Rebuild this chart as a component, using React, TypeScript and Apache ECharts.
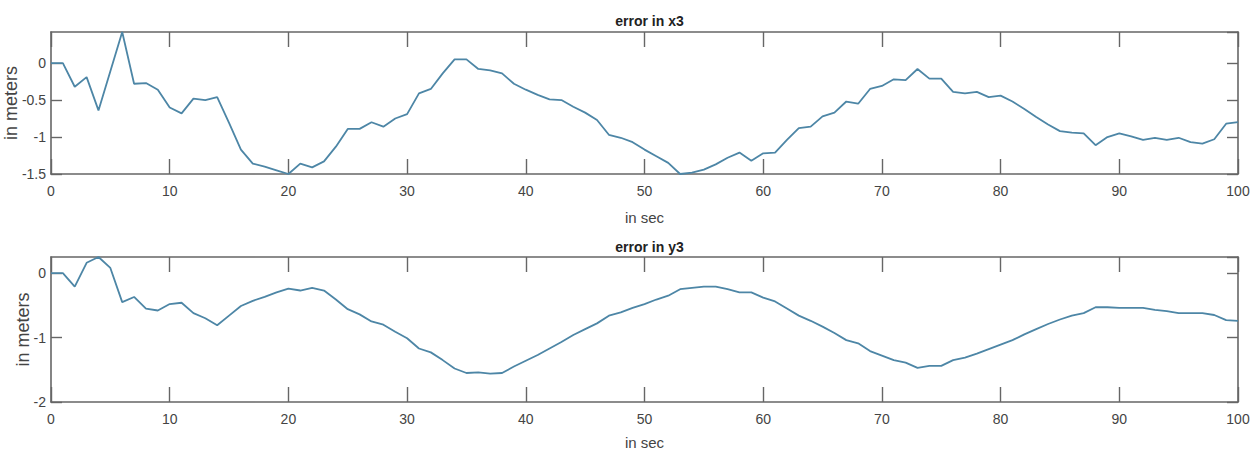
import React, { useEffect, useRef } from "react";
import * as echarts from "echarts";

const seconds: number[] = Array.from({ length: 101 }, (_, i) => i);

const errorX3: number[] = [
  0, 0, -0.32, -0.19, -0.64, -0.11, 0.42, -0.28, -0.27, -0.36,
  -0.6, -0.68, -0.48, -0.5, -0.46, -0.81, -1.17, -1.36, -1.4, -1.45,
  -1.5, -1.36, -1.41, -1.33, -1.13, -0.89, -0.89, -0.8, -0.86, -0.75,
  -0.69, -0.41, -0.35, -0.14, 0.05, 0.05, -0.08, -0.1, -0.14, -0.28,
  -0.36, -0.43, -0.49, -0.5, -0.59, -0.67, -0.77, -0.97, -1.01, -1.07,
  -1.17, -1.26, -1.35, -1.5, -1.48, -1.44, -1.37, -1.28, -1.21, -1.32,
  -1.22, -1.21, -1.04, -0.88, -0.86, -0.72, -0.67, -0.52, -0.55, -0.35,
  -0.31, -0.22, -0.23, -0.08, -0.21, -0.21, -0.39, -0.41, -0.39, -0.46,
  -0.44, -0.52, -0.62, -0.73, -0.83, -0.92, -0.94, -0.95, -1.11, -1.0,
  -0.95, -0.99, -1.04, -1.01, -1.04, -1.01, -1.07, -1.09, -1.03, -0.82,
  -0.8,
];

const errorY3: number[] = [
  0, 0, -0.21, 0.16, 0.25, 0.08, -0.45, -0.37, -0.55, -0.58,
  -0.48, -0.46, -0.62, -0.7, -0.81, -0.66, -0.51, -0.43, -0.37, -0.3,
  -0.24, -0.27, -0.23, -0.27, -0.41, -0.56, -0.64, -0.75, -0.8, -0.91,
  -1.01, -1.17, -1.23, -1.35, -1.48, -1.55, -1.54, -1.56, -1.55, -1.45,
  -1.36, -1.27, -1.17, -1.07, -0.96, -0.87, -0.78, -0.66, -0.61, -0.54,
  -0.48, -0.41, -0.35, -0.25, -0.23, -0.21, -0.21, -0.25, -0.3, -0.3,
  -0.38, -0.44, -0.55, -0.66, -0.74, -0.83, -0.93, -1.04, -1.09, -1.21,
  -1.28, -1.35, -1.39, -1.47, -1.44, -1.44, -1.35, -1.31, -1.25, -1.18,
  -1.11, -1.04, -0.95, -0.87, -0.79, -0.72, -0.66, -0.62, -0.53, -0.53,
  -0.54, -0.54, -0.54, -0.57, -0.59, -0.62, -0.62, -0.62, -0.65, -0.73,
  -0.74,
];

const titles = ["error in x3", "error in y3"];
const xAxisName = "in sec";
const yAxisName = "in meters";

const FRAME = "#666666";
const LINE = "#4d86a6";
const FONT = "'Liberation Sans Narrow', 'Liberation Sans', Arial, sans-serif";

export default function App() {
  const ref = useRef<HTMLDivElement>(null);

  useEffect(() => {
    if (!ref.current) return;
    const chart = echarts.init(ref.current, undefined, { renderer: "svg" });

    const axisLine = { show: true, onZero: false, lineStyle: { color: FRAME, width: 1.6 } };
    const xTick = { show: true, inside: true, length: 15, lineStyle: { color: FRAME, width: 1.4 } };
    const yTick = { show: true, inside: true, length: 11, lineStyle: { color: FRAME, width: 1.4 } };
    const labelStyle = { color: "#444", fontSize: 14, fontFamily: FONT };

    const makeX = (gridIndex: number, bottom: boolean, gap: number) => ({
      type: "value",
      gridIndex,
      position: bottom ? "bottom" : "top",
      min: 0,
      max: 100,
      interval: 10,
      axisLine,
      axisTick: xTick,
      splitLine: { show: false },
      axisLabel: bottom ? { ...labelStyle, margin: 10 } : { show: false },
      name: bottom ? xAxisName : "",
      nameLocation: "middle",
      nameGap: gap,
      nameMoveOverlap: false,
      nameTextStyle: { color: "#444", fontSize: 15, fontFamily: FONT },
    });

    const makeY = (gridIndex: number, left: boolean, min: number, max: number, interval: number, gap: number) => ({
      type: "value",
      gridIndex,
      position: left ? "left" : "right",
      min,
      max,
      interval,
      axisLine,
      axisTick: yTick,
      splitLine: { show: false },
      axisLabel: left ? { ...labelStyle, margin: 5, showMaxLabel: false } : { show: false },
      name: left ? yAxisName : "",
      nameLocation: "middle",
      nameRotate: 90,
      nameGap: gap,
      nameMoveOverlap: false,
      nameTextStyle: { color: "#444", fontSize: 18, fontFamily: "'Liberation Sans', Arial, sans-serif" },
    });

    chart.setOption({
      animation: false,
      backgroundColor: "#ffffff",
      title: [
        {
          text: titles[0],
          left: 644.5,
          top: 9,
          textAlign: "center",
          textStyle: { fontSize: 14, fontWeight: "bold", color: "#222", fontFamily: FONT },
        },
        {
          text: titles[1],
          left: 644.5,
          top: 235,
          textAlign: "center",
          textStyle: { fontSize: 14, fontWeight: "bold", color: "#222", fontFamily: FONT },
        },
      ],
      grid: [
        { left: 51, right: 12, top: 32, height: 142, containLabel: false, outerBoundsMode: "none" },
        { left: 51, right: 12, top: 257, height: 145, containLabel: false, outerBoundsMode: "none" },
      ],
      xAxis: [makeX(0, true, 36), makeX(0, false, 0), makeX(1, true, 33), makeX(1, false, 0)],
      yAxis: [
        makeY(0, true, -1.5, 0.42, 0.5, 31),
        makeY(0, false, -1.5, 0.42, 0.5, 31),
        makeY(1, true, -2, 0.25, 1, 19),
        makeY(1, false, -2, 0.25, 1, 19),
      ],
      series: [
        {
          type: "line",
          xAxisIndex: 0,
          yAxisIndex: 0,
          data: seconds.map((t, i) => [t, errorX3[i]]),
          showSymbol: false,
          lineStyle: { color: LINE, width: 1.8 },
          itemStyle: { color: LINE },
        },
        {
          type: "line",
          xAxisIndex: 2,
          yAxisIndex: 2,
          data: seconds.map((t, i) => [t, errorY3[i]]),
          showSymbol: false,
          lineStyle: { color: LINE, width: 1.8 },
          itemStyle: { color: LINE },
        },
      ],
    });

    return () => chart.dispose();
  }, []);

  return (
    <div
      ref={ref}
      style={{ position: "fixed", left: 0, top: 0, width: 1250, height: 452, background: "#fff" }}
    />
  );
}
